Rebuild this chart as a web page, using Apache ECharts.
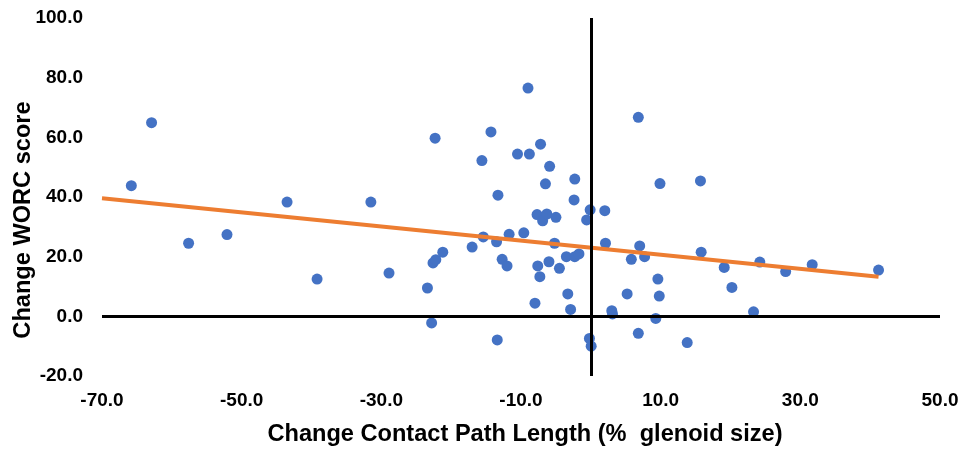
<!DOCTYPE html>
<html>
<head>
<meta charset="utf-8">
<script src="https://cdn.jsdelivr.net/npm/echarts@6/dist/echarts.min.js"></script>
<style>
  html, body { margin: 0; padding: 0; background: #fff; }
  #chart { width: 964px; height: 451px; }
</style>
</head>
<body>
<div id="chart"></div>
<script>
// change in contact path length (% glenoid size)
const xVals = [
  -65.8, -62.9, -57.6, -52.1, -43.5, -39.2, -31.5, -28.9, -23.4, -22.8,
  -22.6, -22.2, -21.2, -22.3, -17.0, -15.4, -15.6, -14.3, -13.5, -13.3,
  -13.4, -12.7, -12.0, -11.7, -10.5, -9.6, -9.0, -8.8, -7.2, -8.0,
  -7.6, -7.3, -7.7, -6.9, -6.3, -6.5, -5.9, -6.0, -5.0, -5.2,
  -4.5, -3.3, -3.5, -2.9, -2.3, -2.4, -2.3, -1.7, -0.6, -0.1,
  -0.2, 0.05, 2.0, 2.1, 3.0, 3.1, 5.2, 5.8, 7.0, 6.8,
  6.8, 7.7, 9.3, 9.6, 9.8, 9.9, 13.8, 15.7, 15.8, 19.1,
  20.2, 23.3, 24.2, 27.9, 31.7, 41.2
]
// change WORC score
const yVals = [
  43.8, 64.9, 24.5, 27.4, 38.3, 12.5, 38.3, 14.5, 9.5, -2.2,
  17.9, 19.0, 21.5, 59.7, 23.2, 26.6, 52.2, 61.8, 25.0, 40.6,
  -7.9, 19.1, 16.9, 27.5, 54.4, 28.0, 76.5, 54.4, 57.7, 4.4,
  16.9, 13.3, 34.1, 32.0, 34.3, 44.4, 50.3, 18.3, 33.2, 24.5,
  16.1, 7.5, 20.0, 2.3, 46.0, 39.0, 20.0, 20.9, 32.3, 35.7,
  -7.4, -10.0, 35.4, 24.5, 1.9, 0.8, 7.5, 19.1, 23.6, -5.7,
  66.7, 20.0, -0.7, 12.5, 6.8, 44.5, -8.8, 45.4, 21.5, 16.4,
  9.7, 1.5, 18.2, 15.0, 17.3, 15.5
]
// trendline end points
const trendX = [-70, 41.2]
const trendY = [39.6, 13.3]

const xTitle = 'Change Contact Path Length (%  glenoid size)'
const yTitle = 'Change WORC score'

const labelFont = {
  color: '#000',
  fontFamily: 'Liberation Sans',
  fontWeight: 'bold',
  fontSize: 19
}
const titleFont = 'bold 23.6px "Liberation Sans"'

const chart = echarts.init(document.getElementById('chart'))

chart.setOption({
  animation: false,
  grid: {
    left: 102,
    right: 24,
    top: 18,
    bottom: 75
  },
  xAxis: {
    type: 'value',
    min: -70,
    max: 50,
    interval: 10,
    axisLine: { show: false },
    axisTick: { show: false },
    splitLine: { show: false },
    axisLabel: Object.assign({
      margin: 15,
      // only every second tick gets a label (-70, -50, ... 50)
      formatter: v => ((v + 70) % 20 === 0 ? v.toFixed(1) : '')
    }, labelFont)
  },
  yAxis: {
    type: 'value',
    min: -20,
    max: 100,
    interval: 20,
    axisLine: { show: false },
    axisTick: { show: false },
    splitLine: { show: false },
    axisLabel: Object.assign({
      margin: 19,
      formatter: v => v.toFixed(1)
    }, labelFont)
  },
  graphic: [
    {
      type: 'text',
      x: 525,
      y: 434,
      style: {
        text: xTitle,
        fill: '#000',
        font: titleFont,
        align: 'center',
        verticalAlign: 'middle'
      }
    },
    {
      type: 'text',
      x: 23,
      y: 220,
      rotation: Math.PI / 2,
      style: {
        text: yTitle,
        fill: '#000',
        font: titleFont,
        align: 'center',
        verticalAlign: 'middle'
      }
    }
  ],
  series: [
    {
      // crossing axis lines at x = 0 and y = 0
      name: 'axes',
      type: 'line',
      data: [],
      z: 1,
      silent: true,
      markLine: {
        silent: true,
        symbol: ['none', 'none'],
        label: { show: false },
        lineStyle: { color: '#000', width: 3, type: 'solid' },
        data: [{ xAxis: 0 }, { yAxis: 0 }]
      }
    },
    {
      name: 'WORC',
      type: 'scatter',
      z: 2,
      symbolSize: 11,
      itemStyle: { color: '#4472C4', opacity: 1 },
      data: xVals.map((x, i) => [x, yVals[i]])
    },
    {
      name: 'trend',
      type: 'line',
      z: 3,
      symbol: 'none',
      lineStyle: { color: '#ED7D31', width: 4 },
      data: trendX.map((x, i) => [x, trendY[i]])
    }
  ]
})
</script>
</body>
</html>
